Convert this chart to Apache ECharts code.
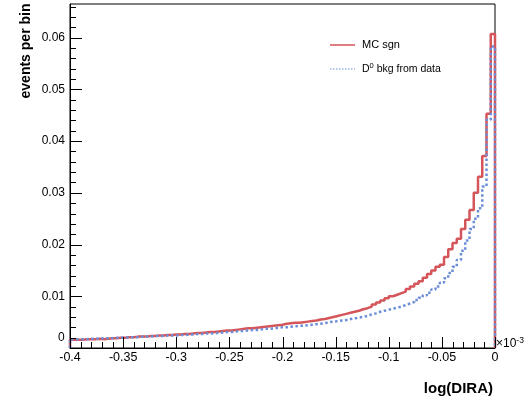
<!DOCTYPE html>
<html>
<head>
<meta charset="utf-8">
<script src="https://cdn.jsdelivr.net/npm/echarts@6/dist/echarts.min.js"></script>
<style>html,body{margin:0;padding:0;background:#fff}#c{width:529px;height:402px}</style>
</head>
<body>
<div id="c"></div>
<script>
// Histogram binning: 100 bins from -0.4 to 0 (units of 1e-3)
const binStart = -0.4;
const binWidth = 0.004;
const xTicks = ['-0.4','-0.35','-0.3','-0.25','-0.2','-0.15','-0.1','-0.05','0'];
const seriesNames = ['MC sgn', 'D0 bkg from data'];

const mcSgn = [
  0.0016,0.0016,0.0016,0.0017,0.0017,0.0017,0.0018,0.0017,0.0018,0.0019,
  0.0019,0.0020,0.0020,0.0021,0.0021,0.0022,0.0022,0.0022,0.0023,0.0023,
  0.0024,0.0024,0.0025,0.0025,0.0026,0.0026,0.0027,0.0027,0.0028,0.0029,
  0.0029,0.0030,0.0031,0.0031,0.0032,0.0033,0.0034,0.0034,0.0035,0.0036,
  0.0037,0.0038,0.0038,0.0039,0.0040,0.0041,0.0042,0.0043,0.0044,0.0045,
  0.0047,0.0048,0.0049,0.0049,0.0050,0.0051,0.0052,0.0053,0.0055,0.0056,
  0.0058,0.0060,0.0062,0.0064,0.0066,0.0068,0.0070,0.0072,0.0075,0.0077,
  0.0080,0.0084,0.0088,0.0092,0.0096,0.0100,0.0103,0.0106,0.0109,0.0114,
  0.0119,0.0124,0.0129,0.0136,0.0143,0.0150,0.0157,0.0161,0.0176,0.0191,
  0.0203,0.0211,0.0230,0.0248,0.0267,0.0300,0.0331,0.0371,0.0453,0.0607
];
const bkgData = [
  0.0017,0.0017,0.0017,0.0017,0.0018,0.0018,0.0018,0.0019,0.0019,0.0019,
  0.0020,0.0020,0.0020,0.0021,0.0021,0.0021,0.0022,0.0022,0.0022,0.0023,
  0.0023,0.0023,0.0024,0.0024,0.0024,0.0025,0.0025,0.0026,0.0026,0.0027,
  0.0027,0.0028,0.0028,0.0029,0.0029,0.0030,0.0031,0.0031,0.0032,0.0033,
  0.0033,0.0034,0.0035,0.0035,0.0036,0.0037,0.0037,0.0038,0.0039,0.0040,
  0.0040,0.0041,0.0042,0.0043,0.0043,0.0044,0.0045,0.0046,0.0047,0.0048,
  0.0050,0.0051,0.0052,0.0053,0.0054,0.0056,0.0057,0.0059,0.0060,0.0062,
  0.0065,0.0067,0.0070,0.0072,0.0074,0.0076,0.0078,0.0080,0.0083,0.0086,
  0.0089,0.0093,0.0097,0.0102,0.0107,0.0113,0.0119,0.0126,0.0135,0.0145,
  0.0157,0.0170,0.0188,0.0208,0.0230,0.0250,0.0270,0.0312,0.0441,0.0583
];

function histPoints(vals) {
  const pts = [[binStart, 0]];
  vals.forEach((v, i) => pts.push([+(binStart + i * binWidth).toFixed(4), v]));
  const end = +(binStart + vals.length * binWidth).toFixed(4);
  pts.push([end, vals[vals.length - 1]]);
  pts.push([end, 0]);
  return pts;
}

// Axis tick marks (major + 4 minor per labelled interval), pointing inward like ROOT
const xTickVals = [];
for (let k = 0; k <= 40; k++) xTickVals.push([+(-0.4 + k * 0.01).toFixed(3), k % 5 === 0]);
const yTickVals = [];
for (let k = 0; k <= 33; k++) yTickVals.push([+(k * 0.002).toFixed(3), k % 5 === 0]);

const chart = echarts.init(document.getElementById('c'), null, {renderer: 'canvas'});
const FONT = '"Liberation Sans", Arial, sans-serif';

const baseGraphic = [
  {type: 'rect', shape: {x: 70, y: 4, width: 425, height: 344}, style: {fill: 'none', stroke: '#000', lineWidth: 1}, silent: true, z: 1},
  {type: 'text', left: 58, top: 332, style: {text: '0', fill: '#000', font: '12px ' + FONT}},
  {type: 'text', left: 496, top: 336, style: {
    text: '×10{s|-3}', fill: '#000', font: '12px ' + FONT,
    rich: {s: {fontSize: 8.5, verticalAlign: 'top', padding: [0, 0, 6, 0], fill: '#000', fontFamily: FONT}}
  }},
  {type: 'text', right: 36, top: 381, style: {text: 'log(DIRA)', fill: '#000', font: 'bold 15px ' + FONT}},
  {type: 'text', x: 26, y: 51, rotation: Math.PI / 2, style: {text: 'events per bin', fill: '#000', font: 'bold 14px ' + FONT, align: 'center', verticalAlign: 'middle'}},
  {type: 'line', shape: {x1: 330, y1: 45, x2: 355, y2: 45}, style: {stroke: '#d4555a', lineWidth: 1.5}},
  {type: 'text', left: 362, top: 39, style: {text: 'MC sgn', fill: '#000', font: '11px ' + FONT}},
  {type: 'line', shape: {x1: 330, y1: 69, x2: 355, y2: 69}, style: {stroke: '#6b8ed6', lineWidth: 1, lineDash: [1.5, 1.5]}},
  {type: 'text', left: 362, top: 62, style: {
    text: 'D{s|0} bkg from data', fill: '#000', font: '10.5px ' + FONT,
    rich: {s: {fontSize: 7.5, padding: [0, 0, 6, 0], fill: '#000', fontFamily: FONT}}
  }}
];

chart.setOption({
  animation: false,
  grid: {left: 70, right: 34, top: 4, bottom: 54},
  xAxis: [{
    type: 'value', min: -0.4, max: 0, interval: 0.05, position: 'bottom',
    axisLine: {onZero: false, lineStyle: {color: '#000'}},
    axisTick: {show: false},
    splitLine: {show: false},
    axisLabel: {
      color: '#000', fontFamily: FONT, fontSize: 12.5, margin: 3,
      formatter: v => { const idx = Math.round((v - binStart) / 0.05); return xTicks[idx] !== undefined ? xTicks[idx] : ''; }
    }
  }],
  yAxis: [{
    type: 'value', min: 0, max: 0.0665, interval: 0.01, position: 'left',
    axisLine: {show: true, onZero: false, lineStyle: {color: '#000'}},
    axisTick: {show: false},
    splitLine: {show: false},
    axisLabel: {
      color: '#000', fontFamily: FONT, fontSize: 12, margin: 5, showMaxLabel: false,
      formatter: v => (v === 0 ? '' : v.toFixed(2))
    }
  }],
  series: [
    {
      name: seriesNames[0], type: 'line', step: 'end', showSymbol: false, z: 3,
      data: histPoints(mcSgn),
      lineStyle: {color: '#d4555a', width: 2.5}
    },
    {
      name: seriesNames[1], type: 'line', step: 'end', showSymbol: false, z: 4,
      data: histPoints(bkgData),
      lineStyle: {color: '#6b8ed6', width: 2.5, type: [2.5, 2.5]}
    }
  ],
  graphic: baseGraphic
});

// Tick marks placed through the chart's own axis scales
const tickGraphic = [];
xTickVals.forEach(([v, major]) => {
  const p = chart.convertToPixel({gridIndex: 0}, [v, 0]);
  const x = Math.round(p[0]) + 0.5, y = Math.round(p[1]);
  tickGraphic.push({type: 'line', silent: true, z: 100,
    shape: {x1: x, y1: y, x2: x, y2: y - (major ? 11 : 6)},
    style: {stroke: '#000', lineWidth: 1}});
});
yTickVals.forEach(([v, major]) => {
  const p = chart.convertToPixel({gridIndex: 0}, [-0.4, v]);
  const x = Math.round(p[0]), y = Math.round(p[1]) + 0.5;
  tickGraphic.push({type: 'line', silent: true, z: 100,
    shape: {x1: x, y1: y, x2: x + (major ? 12 : 6), y2: y},
    style: {stroke: '#000', lineWidth: 1}});
});
chart.setOption({graphic: baseGraphic.concat(tickGraphic)});
</script>
</body>
</html>
